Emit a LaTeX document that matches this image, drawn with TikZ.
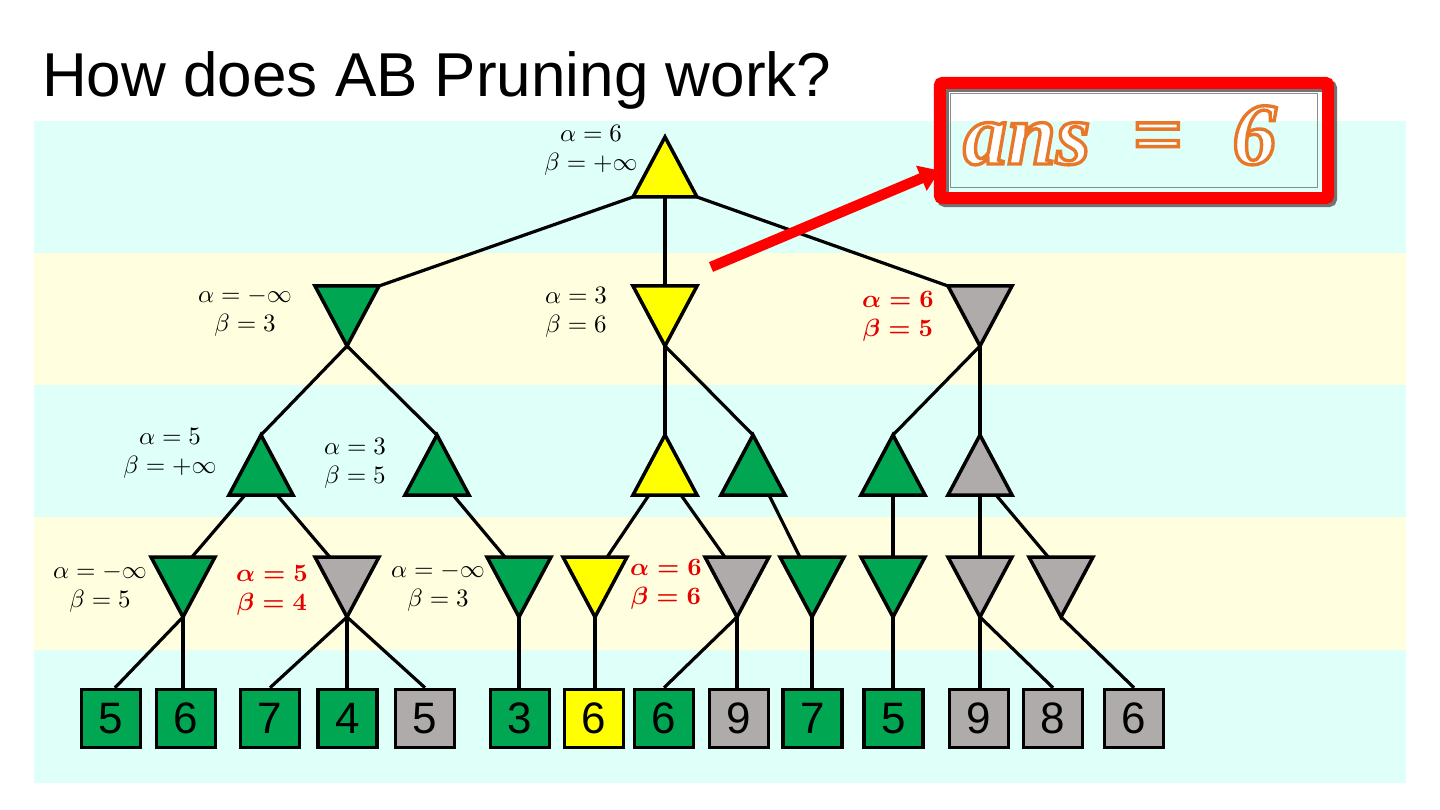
\documentclass[tikz,border=0pt]{standalone}
\usepackage[no-math]{fontspec}
\usepackage{graphicx}
\setmainfont{Liberation Sans}
\newfontfamily\ansfont{Liberation Serif}
\usetikzlibrary{calc,arrows.meta}
\definecolor{tgreen}{RGB}{0,166,81}
\definecolor{tyellow}{RGB}{255,255,0}
\definecolor{tgray}{RGB}{175,171,171}
\definecolor{bandc}{RGB}{223,255,249}
\definecolor{bandy}{RGB}{255,255,224}
\definecolor{labred}{RGB}{230,0,0}
\definecolor{ansorange}{RGB}{232,120,40}
\tikzset{
  tbox/.style={rectangle, inner sep=0pt, outer sep=0pt, minimum width=64pt, minimum height=60pt},
  tri/.style={draw=black, line width=3.5pt, line join=miter},
  edge/.style={draw=black, line width=3.2pt},
  leaf/.style={draw=black, line width=3.5pt, minimum width=59pt, minimum height=58pt, inner sep=0pt, font=\fontsize{44}{44}\selectfont},
  lab/.style={align=center, inner sep=0pt, font=\fontsize{10}{29}\selectfont},
  redlab/.style={align=center, inner sep=0pt, text=labred, font=\fontsize{10}{29}\selectfont\boldmath},
}
\newcommand\PlaceT[3]{\node[tbox] (#1) at (#2,#3) {};}
\newcommand\DrawUp[2]{\path[tri,fill=#2] (#1.north) -- (#1.south east) -- (#1.south west) -- cycle;}
\newcommand\DrawDn[2]{\path[tri,fill=#2] (#1.south) -- (#1.north east) -- (#1.north west) -- cycle;}
\newcommand\ML[1]{\scalebox{2.5}{$#1$}}
\begin{document}
\begin{tikzpicture}[x=1pt,y=-1pt]
\useasboundingbox (0,0) rectangle (1440,810);
% bands
\fill[bandc] (34,121) rectangle (1406,253);
\fill[bandy] (34,253) rectangle (1406,385);
\fill[bandc] (34,385) rectangle (1406,517);
\fill[bandy] (34,517) rectangle (1406,650);
\fill[bandc] (34,650) rectangle (1406,783);
% title
\node[anchor=base west, inner sep=0pt, font=\fontsize{62}{62}\selectfont] (title) at (42,97) {How does AB Pruning work?};
% triangle nodes
\PlaceT{r}{665}{167}
\PlaceT{a}{347}{316}\PlaceT{b}{665}{316}\PlaceT{c}{980}{316}
\PlaceT{d}{261}{465}\PlaceT{e}{437}{465}\PlaceT{f}{665}{465}\PlaceT{g}{753}{465}\PlaceT{h}{893}{465}\PlaceT{i}{980}{465}
\PlaceT{j}{183}{587}\PlaceT{k}{347}{587}\PlaceT{l}{519}{587}\PlaceT{m}{595}{587}\PlaceT{n}{737}{587}\PlaceT{o}{812}{587}\PlaceT{p}{893}{587}\PlaceT{q}{980}{587}\PlaceT{s}{1061}{587}
% leaves
\node[leaf,fill=tgreen] (L1) at (111,718.5) {5};
\node[leaf,fill=tgreen] (L2) at (186,718.5) {6};
\node[leaf,fill=tgreen] (L3) at (270,718.5) {7};
\node[leaf,fill=tgreen] (L4) at (347.5,718.5) {4};
\node[leaf,fill=tgray] (L5) at (425,718.5) {5};
\node[leaf,fill=tgreen] (L6) at (520,718.5) {3};
\node[leaf,fill=tyellow] (L7) at (594,718.5) {6};
\node[leaf,fill=tgreen] (L8) at (664,718.5) {6};
\node[leaf,fill=tgray] (L9) at (739,718.5) {9};
\node[leaf,fill=tgreen] (L10) at (812.5,718.5) {7};
\node[leaf,fill=tgreen] (L11) at (893.5,718.5) {5};
\node[leaf,fill=tgray] (L12) at (979,718.5) {9};
\node[leaf,fill=tgray] (L13) at (1053,718.5) {8};
\node[leaf,fill=tgray] (L14) at (1134,718.5) {6};
% edges
\draw[edge] (r.south west) -- (a.north east);
\draw[edge] (r.south) -- (b.north);
\draw[edge] (r.south east) -- (c.north west);
\draw[edge] (a.south) -- (d.north);
\draw[edge] (a.south) -- (e.north);
\draw[edge] (b.south) -- (f.north);
\draw[edge] (b.south) -- (g.north);
\draw[edge] (c.south) -- (h.north);
\draw[edge] (c.south) -- (i.north);
\draw[edge] ($(d.south west)!.25!(d.south east)$) -- ($(j.north west)!.64!(j.north east)$);
\draw[edge] ($(d.south west)!.75!(d.south east)$) -- ($(k.north west)!.23!(k.north east)$);
\draw[edge] ($(e.south west)!.75!(e.south east)$) -- ($(l.north west)!.28!(l.north east)$);
\draw[edge] ($(f.south west)!.25!(f.south east)$) -- ($(m.north west)!.69!(m.north east)$);
\draw[edge] ($(f.south west)!.75!(f.south east)$) -- ($(n.north west)!.31!(n.north east)$);
\draw[edge] ($(g.south west)!.75!(g.south east)$) -- ($(o.north west)!.31!(o.north east)$);
\draw[edge] (h.south) -- (p.north);
\draw[edge] (i.south) -- (q.north);
\draw[edge] ($(i.south west)!.75!(i.south east)$) -- ($(s.north west)!.30!(s.north east)$);
\draw[edge] (j.south) -- ([xshift=4pt]L1.north);
\draw[edge] (j.south) -- (j.south |- L2.north);
\draw[edge] (k.south) -- (L3.north);
\draw[edge] (k.south) -- (k.south |- L4.north);
\draw[edge] (k.south) -- (L5.north);
\draw[edge] (l.south) -- (l.south |- L6.north);
\draw[edge] (m.south) -- (m.south |- L7.north);
\draw[edge] (n.south) -- (L8.north);
\draw[edge] (n.south) -- (n.south |- L9.north);
\draw[edge] (o.south) -- (o.south |- L10.north);
\draw[edge] (p.south) -- (p.south |- L11.north);
\draw[edge] (q.south) -- (q.south |- L12.north);
\draw[edge] (q.south) -- (L13.north);
\draw[edge] (s.south) -- (L14.north);
% triangles
\DrawUp{r}{tyellow}
\DrawDn{a}{tgreen}\DrawDn{b}{tyellow}\DrawDn{c}{tgray}
\DrawUp{d}{tgreen}\DrawUp{e}{tgreen}\DrawUp{f}{tyellow}\DrawUp{g}{tgreen}\DrawUp{h}{tgreen}\DrawUp{i}{tgray}
\DrawDn{j}{tgreen}\DrawDn{k}{tgray}\DrawDn{l}{tgreen}\DrawDn{m}{tyellow}\DrawDn{n}{tgray}\DrawDn{o}{tgreen}\DrawDn{p}{tgreen}\DrawDn{q}{tgray}\DrawDn{s}{tgray}
% labels
\node[lab] (lr) at (591,150) {\ML{\alpha=6}\\\ML{\beta=+\infty}};
\node[lab] (la) at (245,312) {\ML{\alpha=-\infty}\\\ML{\beta=3}};
\node[lab] (lb) at (576,312) {\ML{\alpha=3}\\\ML{\beta=6}};
\node[redlab] (lc) at (898,316) {\ML{\alpha=6}\\\ML{\beta=5}};
\node[lab] (ld) at (170,453) {\ML{\alpha=5}\\\ML{\beta=+\infty}};
\node[lab] (le) at (355,463) {\ML{\alpha=3}\\\ML{\beta=5}};
\node[lab] (lj) at (100,588) {\ML{\alpha=-\infty}\\\ML{\beta=5}};
\node[redlab] (lk) at (272,590) {\ML{\alpha=5}\\\ML{\beta=4}};
\node[lab] (ll) at (438,587) {\ML{\alpha=-\infty}\\\ML{\beta=3}};
\node[redlab] (lm) at (666,584) {\ML{\alpha=6}\\\ML{\beta=6}};
% answer box
\node[minimum width=388pt, minimum height=115pt, inner sep=0pt] (ans) at (1134,140.5) {};
\draw[black!55, line width=12pt, rounded corners=3pt] ([shift={(3pt,-3pt)}]ans.south west) rectangle ([shift={(3pt,-3pt)}]ans.north east);
\draw[red, line width=12pt, rounded corners=3pt] (ans.south west) rectangle (ans.north east);
\draw[black!45, line width=1.2pt] ([shift={(11pt,11pt)}]ans.south west) rectangle ([shift={(-11pt,-11pt)}]ans.north east);
% arrow
\coordinate (arrowstart) at (711,267);
\draw[red, line width=10.5pt, -{Triangle[length=20pt,width=26pt]}] (arrowstart) -- ([yshift=-30pt]ans.west);
% answer text: white fill with orange outline (text render mode 2)
\node[anchor=base west, inner sep=0pt, text=white, font=\ansfont\bfseries\itshape\fontsize{88}{88}\selectfont] (anstext) at (963,164) {\special{pdf:literal direct 2 Tr 3.4 w 0.91 0.47 0.16 RG}ans\hspace{42pt}=\hspace{50pt}6\special{pdf:literal direct 0 Tr 1 w 0 0 0 RG}};
\end{tikzpicture}
\end{document}
